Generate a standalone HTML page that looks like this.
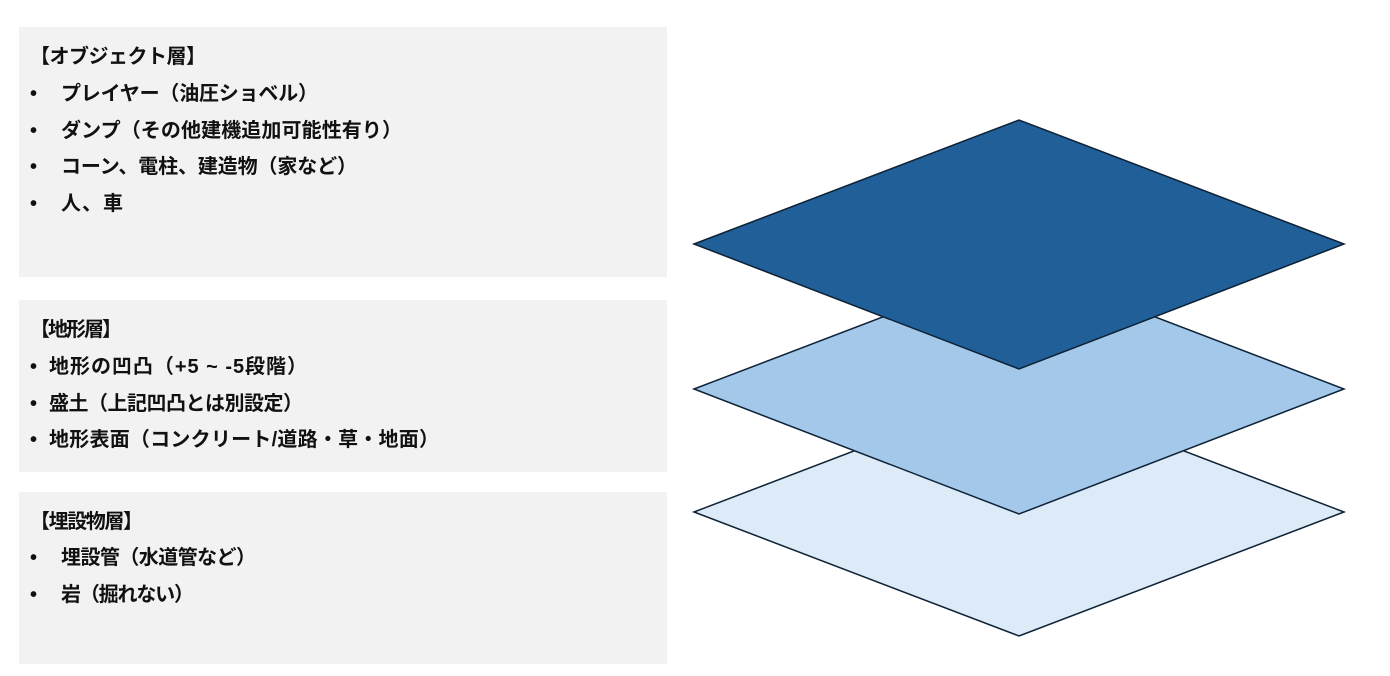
<!DOCTYPE html>
<html><head><meta charset="utf-8"><style>
html,body{margin:0;padding:0;background:#fff;}
svg text{font-family:"Liberation Sans","Noto Sans CJK JP",sans-serif;font-weight:bold;font-size:20px;fill:#111;}
</style></head><body>
<svg width="1390" height="671" xmlns="http://www.w3.org/2000/svg">
<rect x="19" y="27" width="648" height="250" fill="#f2f2f2"/>
<rect x="19" y="300" width="648" height="172" fill="#f2f2f2"/>
<rect x="19" y="492" width="648" height="172" fill="#f2f2f2"/>
<text x="30" y="63" textLength="176">【オブジェクト層】</text>
<text x="30" y="100">•</text><text x="61" y="100" textLength="257">プレイヤー（油圧ショベル）</text>
<text x="30" y="137">•</text><text x="61" y="137" textLength="341">ダンプ（その他建機追加可能性有り）</text>
<text x="30" y="173">•</text><text x="61" y="173" textLength="296">コーン、電柱、建造物（家など）</text>
<text x="30" y="210">•</text><text x="61" y="210" textLength="62">人、車</text>
<text x="30" y="336" textLength="92">【地形層】</text>
<text x="30" y="373">•</text><text x="49" y="373" textLength="258">地形の凹凸（+5 ~ -5段階）</text>
<text x="30" y="410">•</text><text x="49" y="410" textLength="254">盛土（上記凹凸とは別設定）</text>
<text x="30" y="446">•</text><text x="49" y="446" textLength="390">地形表面（コンクリート/道路・草・地面）</text>
<text x="30" y="528" textLength="113">【埋設物層】</text>
<text x="30" y="564">•</text><text x="61" y="564" textLength="195">埋設管（水道管など）</text>
<text x="30" y="601">•</text><text x="61" y="601" textLength="133">岩（掘れない）</text>
<polygon points="694,512 1019,388 1344,512 1019,636" fill="#ddeaf7" stroke="#0d2236" stroke-width="1.5"/>
<polygon points="694,389 1019,265 1344,389 1019,514" fill="#a4c8ea" stroke="#0d2236" stroke-width="1.5"/>
<polygon points="694,244 1019,120 1344,244 1019,369" fill="#215f98" stroke="#0d2236" stroke-width="1.5"/>
</svg>
</body></html>
